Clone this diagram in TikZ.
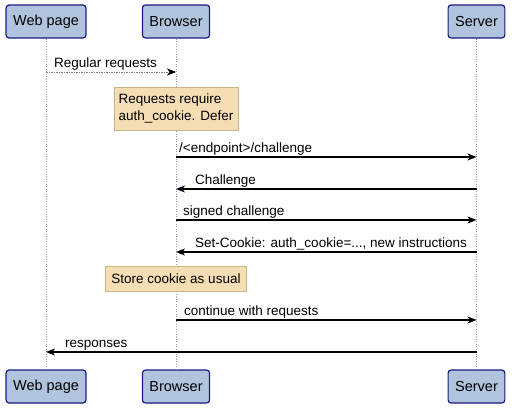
\documentclass[tikz,border=0pt]{standalone}
\usepackage{fontspec}
\setmainfont{Liberation Sans}
\usetikzlibrary{arrows.meta}
\definecolor{actorfill}{HTML}{B0C4DE}
\definecolor{actorline}{HTML}{1A1A80}
\definecolor{notefill}{HTML}{F5DEB3}
\definecolor{noteline}{HTML}{C9B48A}
\definecolor{lifeline}{HTML}{9A8FD0}
\begin{document}
\begin{tikzpicture}[
            x=1pt, y=-1pt,
            actor/.style={draw=actorline, fill=actorfill, line width=1.2pt, rounded corners=3pt,
                minimum height=33pt, inner xsep=7pt, font=\fontsize{14.5}{17}\selectfont},
            life/.style={draw=lifeline, line width=0.6pt, dash pattern=on 1pt off 1.5pt},
            msg/.style={draw=black, line width=1.1pt, -{Stealth[length=9pt,width=7pt,inset=2.5pt]}},
            reply/.style={draw=gray, line width=0.7pt, dash pattern=on 1.5pt off 1pt,
                -{Stealth[length=9pt,width=7pt,inset=2.5pt,color=black,line width=0.4pt]}},
            lbl/.style={anchor=base west, inner sep=0pt, font=\fontsize{13.5}{16}\selectfont},
            note/.style={draw=noteline, fill=notefill, line width=0.8pt, align=left,
                inner xsep=4pt, font=\fontsize{13.5}{16.5}\selectfont},
        ] % sequence thing, boxes on top and bottom
            \useasboundingbox (0,0) rectangle (512,410);

            % actors
            \node [actor] (web) at (46,21.5) {Web page};
            \node [actor] (browser) at (176,21.5) {Browser};
            \node [actor] (server) at (476.5,21.5) {Server};
            \node [actor] (webB) at (46,386.5) {Web page};
            \node [actor] (browserB) at (176,386.5) {Browser};
            \node [actor] (serverB) at (476.5,386.5) {Server};

            \foreach \a in {web, browser, server} {
                \draw [life] (\a) -- (\a B);
            }

            % rows
            \coordinate (r1) at (0,72);
            \coordinate (n1) at (0,108.5);
            \coordinate (r2) at (0,157);
            \coordinate (r3) at (0,189);
            \coordinate (r4) at (0,220);
            \coordinate (r5) at (0,252);
            \coordinate (n2) at (0,278.5);
            \coordinate (r6) at (0,320);
            \coordinate (r7) at (0,352);

            \draw [reply] (web |- r1) -- (browser |- r1);
            \node [lbl] (l1) at (54,67) {Regular requests};

            \node [note, minimum width=124pt, minimum height=43pt] (note1) at (browser |- n1)
                {Requests require\\auth\_cookie. Defer};

            \draw [msg] (browser |- r2) -- (server |- r2);
            \node [lbl] (l2) at (179,152) {/<endpoint>/challenge};

            \draw [msg] (server |- r3) -- (browser |- r3);
            \node [lbl] (l3) at (195,184) {Challenge};

            \draw [msg] (browser |- r4) -- (server |- r4);
            \node [lbl] (l4) at (183,215) {signed challenge};

            \draw [msg] (server |- r5) -- (browser |- r5);
            \node [lbl] (l5) at (195,247) {Set-Cookie: auth\_cookie=..., new instructions};

            \node [note, minimum width=141pt, minimum height=25pt] (note2) at (browser |- n2)
                {Store cookie as usual};

            \draw [msg] (browser |- r6) -- (server |- r6);
            \node [lbl] (l6) at (184,315) {continue with requests};

            \draw [msg] (server |- r7) -- (web |- r7);
            \node [lbl] (l7) at (65,347) {responses};
        \end{tikzpicture}
\end{document}
